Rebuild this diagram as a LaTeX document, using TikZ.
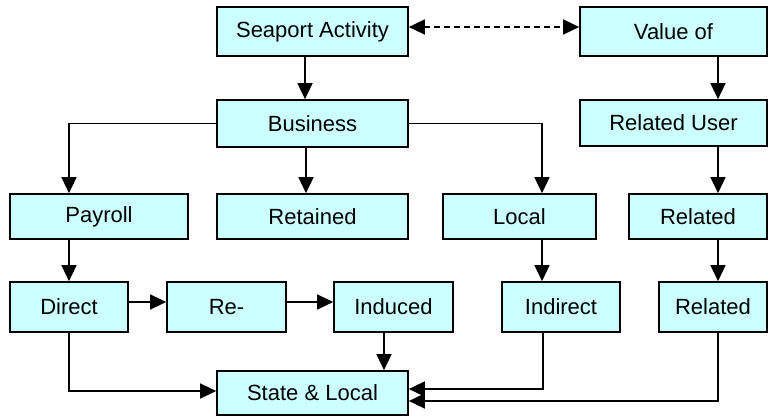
\documentclass[tikz,border=0pt]{standalone}
\usepackage{fontspec}
\setmainfont{Liberation Sans}
\usetikzlibrary{arrows.meta}
\definecolor{boxfill}{HTML}{CCFFFF}
\tikzset{
  box/.style={draw=black, line width=1.7pt, fill=boxfill, inner sep=0pt, anchor=center,
    font=\fontsize{22}{26}\selectfont},
  arr/.style={line width=1.6pt, -{Triangle[length=16pt,width=15pt]}},
  darr/.style={line width=1.6pt, dash pattern=on 6pt off 4pt,
    {Triangle[length=16pt,width=15pt]}-{Triangle[length=16pt,width=15pt]}}
}
\begin{document}
\begin{tikzpicture}[x=1pt,y=-1pt]
\useasboundingbox (0,0) rectangle (769,416);
% row 1
\node[box, minimum width=191pt, minimum height=49pt] (seaport) at (312.5,31.5) {Seaport Activity};
\node[box, minimum width=187pt, minimum height=49pt] (value) at (673.5,31.5) {Value of};
% row 2
\node[box, minimum width=191pt, minimum height=47pt] (business) at (312.5,123.5) {Business};
\node[box, minimum width=187pt, minimum height=46pt] (reluser) at (673.5,123) {Related User};
% row 3
\node[box, minimum width=178pt, minimum height=45pt] (payroll) at (99,216.5) {Payroll};
\node[box, minimum width=191pt, minimum height=45pt] (retained) at (312.5,216.5) {Retained};
\node[box, minimum width=153pt, minimum height=45pt] (local) at (519.5,216.5) {Local};
\node[box, minimum width=138pt, minimum height=45pt] (related3) at (698,216.5) {Related};
% row 4
\node[box, minimum width=118pt, minimum height=50pt] (direct) at (69,307) {Direct};
\node[box, minimum width=119pt, minimum height=50pt] (re) at (226.5,307) {Re-};
\node[box, minimum width=119pt, minimum height=50pt] (induced) at (393.5,307) {Induced};
\node[box, minimum width=118pt, minimum height=50pt] (indirect) at (561,307) {Indirect};
\node[box, minimum width=108pt, minimum height=50pt] (related4) at (713,307) {Related};
% row 5
\node[box, minimum width=191pt, minimum height=44pt] (state) at (312.5,393) {State \& Local};
% connectors
\draw[darr] ([yshift=4.5pt]seaport.east) -- ([yshift=4.5pt]value.west);
\draw[arr] ([xshift=-7.5pt]seaport.south) -- ([xshift=-7.5pt]business.north);
\draw[arr] ([xshift=44.5pt]value.south) -- ([xshift=44.5pt]reluser.north);
\draw[arr] ([xshift=44.5pt]reluser.south) -- ([xshift=20pt]related3.north);
\draw[arr] ([xshift=20pt]related3.south) -- ([xshift=5pt]related4.north);
\draw[arr] (business.west) -| ([xshift=-30pt]payroll.north);
\draw[arr] ([xshift=-6.5pt]business.south) -- ([xshift=-6.5pt]retained.north);
\draw[arr] (business.east) -| ([xshift=22.5pt]local.north);
\draw[arr] ([xshift=-30pt]payroll.south) -- (direct.north);
\draw[arr] ([xshift=22.5pt]local.south) -- ([xshift=-19pt]indirect.north);
\draw[arr] ([yshift=5pt]direct.east) -- ([yshift=5pt]re.west);
\draw[arr] ([yshift=5pt]re.east) -- ([yshift=5pt]induced.west);
\draw[arr] ([xshift=-9.5pt]induced.south) -- ([xshift=71.5pt]state.north);
\draw[arr] (direct.south) |- ([yshift=2pt]state.west);
\draw[arr] ([xshift=-18pt]indirect.south) |- ([yshift=4pt]state.east);
\draw[arr] ([xshift=5pt]related4.south) |- ([yshift=-8pt]state.east);
\end{tikzpicture}
\end{document}
